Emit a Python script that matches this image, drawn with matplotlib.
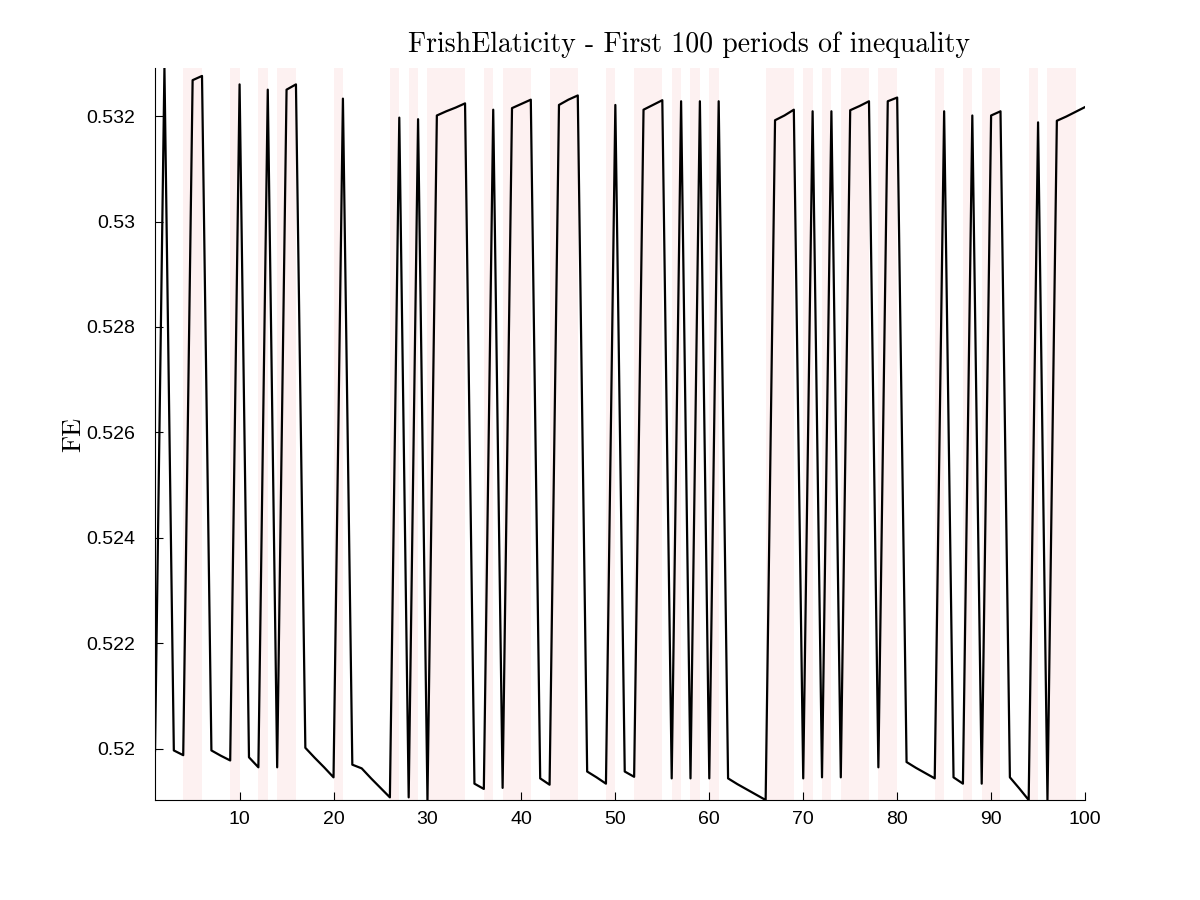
import matplotlib
import matplotlib.pyplot as plt
from matplotlib.ticker import FormatStrFormatter, MultipleLocator

matplotlib.use('Agg')

# periods on the x axis
periods = list(range(1, 101))

# FE values, one per period
fe = [
    0.51997, 0.53291, 0.51997, 0.51988, 0.53268, 0.53276, 0.51997, 0.51987, 0.51978, 0.53260,
    0.51984, 0.51965, 0.53250, 0.51965, 0.53250, 0.53260, 0.52002, 0.51983, 0.51965, 0.51946,
    0.53233, 0.51970, 0.51963, 0.51944, 0.51926, 0.51908, 0.53197, 0.51908, 0.53194, 0.51903,
    0.53201, 0.53209, 0.53216, 0.53224, 0.51934, 0.51924, 0.53212, 0.51926, 0.53215, 0.53223,
    0.53231, 0.51944, 0.51932, 0.53221, 0.53231, 0.53239, 0.51957, 0.51946, 0.51934, 0.53221,
    0.51957, 0.51947, 0.53212, 0.53221, 0.53230, 0.51944, 0.53228, 0.51944, 0.53228, 0.51944,
    0.53228, 0.51944, 0.51933, 0.51923, 0.51913, 0.51903, 0.53192, 0.53201, 0.53212, 0.51944,
    0.53209, 0.51946, 0.53209, 0.51946, 0.53211, 0.53219, 0.53228, 0.51965, 0.53228, 0.53235,
    0.51975, 0.51964, 0.51954, 0.51944, 0.53209, 0.51946, 0.51934, 0.53201, 0.51934, 0.53201,
    0.53209, 0.51946, 0.51925, 0.51903, 0.53188, 0.51903, 0.53191, 0.53199, 0.53208, 0.53217,
]

# periods of high inequality (shaded band ends at the period)
shaded = [5, 6, 10, 13, 15, 16, 21, 27, 29, 31, 32, 33, 34, 37, 39, 40, 41, 44, 45, 46,
          50, 53, 54, 55, 57, 59, 61, 67, 68, 69, 71, 73, 75, 76, 77, 79, 80, 85, 88, 90,
          91, 95, 97, 98, 99]

title = "FrishElaticity - First 100 periods of inequality"

fig = plt.figure(figsize=(12, 9), dpi=100)
ax = fig.add_axes([0.1292, 0.1111, 0.775, 0.8133])

for p in shaded:
    ax.axvspan(p - 1, p, color='#fdf1f1', lw=0, zorder=0)

ax.plot(periods, fe, color='black', lw=1.6, zorder=2)

ax.set_xlim(periods[0], periods[-1])
ax.set_ylim(min(fe), max(fe))

ax.xaxis.set_major_locator(MultipleLocator(10))
ax.yaxis.set_major_locator(MultipleLocator(0.002))
ax.yaxis.set_major_formatter(FormatStrFormatter('%g'))

for side in ('top', 'right'):
    ax.spines[side].set_visible(False)
for side in ('left', 'bottom'):
    ax.spines[side].set_linewidth(0.8)

ax.tick_params(direction='in', length=6, width=0.8, labelsize=14)
ax.tick_params(axis='x', pad=8)
ax.tick_params(axis='y', pad=14)
for lab in ax.get_xticklabels() + ax.get_yticklabels():
    lab.set_family('Liberation Sans')

ax.set_ylabel("FE", family='cmr10', fontsize=19)
ax.yaxis.set_label_coords(-0.075, 0.5)
fig.text(0.574, 0.95, title, family='cmr10', fontsize=20, ha='center', va='center')

fig.savefig('out.png', dpi=100)
plt.close(fig)
